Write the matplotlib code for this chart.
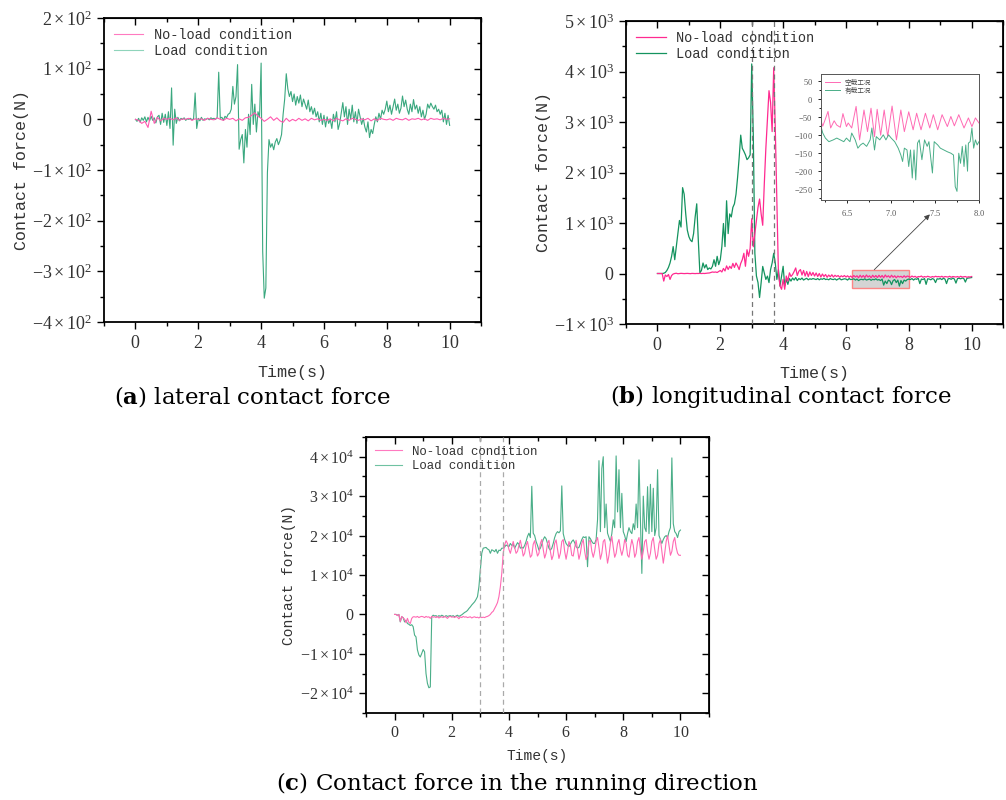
import numpy as np
import matplotlib
matplotlib.use("Agg")
import matplotlib.pyplot as plt
from matplotlib.ticker import FuncFormatter, MultipleLocator
from matplotlib.patches import Rectangle

plt.rcParams['mathtext.fontset'] = 'custom'
plt.rcParams['mathtext.rm'] = 'Liberation Serif'
plt.rcParams['mathtext.it'] = 'Liberation Serif:italic'
plt.rcParams['mathtext.bf'] = 'DejaVu Serif:bold'

# ---------------- data ----------------
# (a) lateral contact force, load condition, sampled every 0.05 s
lat_load = [
    0, -4, 2, -6, 3, -2, 5, -5, 4, -3, 6, -2, 3, -7, 5, 8, -10, 12, -6, 10,
    -12, 15, -18, 62, -51, 20, -8, 4, -3, 2, 0, 3, -2, 1, 0, 2, -1, 1, 52, -18,
    2, -3, 4, -2, 1, 0, 2, -1, 3, 1, 2, 0, 3, 93, 2, 4, -2, 6, 3, 10,
    12, 20, 65, 30, 45, 108, -59, -40, -30, -86, -20, -55, 10, -30, 69, -10, 30, -25, 15, 5,
    111, -261, -353, -333, -105, -40, -55, -48, -60, -45, -38, -50, -42, -30, 10, 40, 90, 60, 45, 55,
    35, 50, 28, 45, 32, 48, 25, 40, 30, 20, 38, 15, 25, 10, 22, 5, 15, -5, 12, -10,
    8, -15, 5, -8, 0, -18, 10, -5, 15, -20, -8, 12, 33, 5, 25, -10, 20, 0, 28, -5,
    15, -8, 20, 5, -10, 2, -15, -25, -5, -36, -20, -28, -10, 5, -5, 12, 0, 18, 10, 20,
    36, 15, 28, 10, 25, 40, 18, 30, 12, 22, 46, 25, 38, 20, 10, 30, 15, 39, 20, 28,
    12, 25, 5, 18, 0, 10, 30, 22, 32, 25, 20, 28, 15, 20, 10, 18, -5, 12, -10, 8, -12,
]
# (a) no-load condition, sampled every 0.1 s
lat_noload = [
    0, -2, -8, -4, -16, 16, -8, 4, -3, 2,
    0, 2, -1, 3, -2, 1, 0, 2, -2, 1,
    0, 1, -2, 2, 0, -1, 3, 0, -2, 2,
    0, 2, -3, 1, -2, 3, 4, 8, 13, 6,
    2, -4, 0, 5, -2, 3, -3, -6, 2, -4,
    0, -3, 2, -2, 1, -3, 2, -1, 1, -2,
    0, -2, 1, -3, 2, -1, -3, 1, -2, 2,
    0, -2, 1, -1, 2, -3, 1, -2, 2, 0,
    -1, 1, -2, 2, 0, -1, 2, -2, 1, 0,
    2, -1, 1, -2, 2, 0, 1, -1, 2, 0, 1,
]

# (b) longitudinal contact force, every 0.05 s
lon_load = [
    0, 0, 0, 0, 5, 20, 60, 120, 208, 340, 533, 273, 530, 790, 1050, 920, 1700, 1570, 1180, 860,
    730, 660, 630, 790, 1120, 1380, 660, 13, 60, 208, 110, 175, 78, 110, 90, 143, 273, 143, 340, 175,
    273, 533, 990, 533, 1440, 790, 1180, 1120, 1310, 1380, 1570, 1900, 2290, 2740, 2480, 2420, 2350, 2255, 2290, 2350,
    4150, 2740, 400, -50, -180, -475, -180, 140, 13, -117, -52, -180, 78, 208, 400, 208, -117, 78, -247, -52,
    143, -247, -117, -215, -100, -150, -90, -130, -80, -140, -100, -120, -90, -130, -110, -95, -125, -105, -115, -100,
    -110, -120, -100, -125, -105, -115, -95, -120, -110, -125, -100, -115, -120, -105, -130, -110, -100, -125, -115, -105,
    -110, -130, -100, -120, -115, -105, -130, -110, -140, -120, -115, -125, -105, -130, -120, -110, -135, -115, -125, -105,
    -130, -120, -140, -110, -230, -150, -200, -130, -150, -220, -140, -120, -180, -130, -250, -140, -200, -130, -150, -120,
    -110, -120, -100, -130, -105, -115, -95, -200, -110, -120, -100, -215, -105, -110, -125, -100, -115, -180, -105, -110,
    -100, -120, -95, -110, -200, -105, -100, -115, -90, -110, -190, -100, -95, -105, -90, -100, -170, -95, -90, -85, -80,
]
lon_noload = [
    0, 0, 0, 0, -150, -30, -60, -20, -117, -40, -10, 0, 5, -5, 0, 3, 0, -2, 0, 2,
    0, -3, 2, 0, -2, 1, 0, 3, -1, 2, 0, 5, 8, 10, 20, 30, 25, 30, 20, 40,
    60, 30, 100, 50, 150, 80, 143, 100, 200, 120, 208, 150, 78, 200, 273, 400, 143, 470, 340, 500,
    1085, 530, 790, 1050, 1310, 1475, 1180, 955, 1770, 2480, 3070, 3620, 3390, 2810, 4075, 2870, 1440, 13, -247, -312,
    -117, -312, -50, -150, 13, -60, -20, 40, 110, -40, 45, 78, -30, 60, -50, 40, -60, 30, -40, 20,
    -50, 10, -60, 0, -70, -10, -60, -20, -75, -30, -65, -25, -70, -35, -60, -40, -75, -45, -65, -40,
    -70, -45, -75, -50, -80, -40, -70, -45, -85, -35, -75, -40, -80, -30, -70, -45, -85, -35, -75, -40,
    -80, -35, -75, -40, -85, -30, -70, -45, -80, -35, -75, -45, -85, -50, -70, -55, -80, -45, -75, -50,
    -60, -75, -50, -70, -55, -80, -60, -65, -50, -75, -60, -70, -55, -65, -75, -60, -70, -55, -65, -60,
    -70, -55, -75, -60, -65, -70, -55, -75, -60, -65, -70, -60, -75, -55, -70, -65, -60, -75, -65, -70, -60,
]

# (b) inset, 6.2-8.0 s
ins_noload_t = [6.20, 6.22, 6.25, 6.28, 6.31, 6.35, 6.38, 6.42, 6.45, 6.49, 6.51, 6.55, 6.60, 6.64,
                6.69, 6.73, 6.77, 6.81, 6.84, 6.88, 6.92, 6.96, 7.01, 7.06, 7.11, 7.15, 7.20, 7.25,
                7.29, 7.34, 7.39, 7.44, 7.48, 7.53, 7.58, 7.64, 7.68, 7.72, 7.77, 7.83, 7.88, 7.92,
                7.96, 8.00]
ins_noload_v = [-60, -75, -55, -34, -80, -60, -72, -78, -40, -76, -66, -80, -20, -113,
                -30, -90, -25, -104, -28, -100, -30, -104, -19, -113, -30, -90, -35, -85,
                -39, -85, -39, -80, -43, -85, -43, -76, -48, -74, -43, -80, -52, -76,
                -52, -66]
ins_load_t = [6.20, 6.22, 6.25, 6.29, 6.34, 6.38, 6.42, 6.46, 6.49, 6.53, 6.55, 6.59, 6.62, 6.65,
              6.68, 6.72, 6.76, 6.78, 6.81, 6.83, 6.87, 6.91, 6.94, 6.97, 7.00, 7.04, 7.08, 7.11,
              7.13, 7.15, 7.18, 7.20, 7.22, 7.24, 7.26, 7.28, 7.30, 7.32, 7.35, 7.38, 7.41, 7.43,
              7.47, 7.49, 7.53, 7.56, 7.60, 7.64, 7.68, 7.71, 7.73, 7.75, 7.77, 7.79, 7.81, 7.83,
              7.85, 7.87, 7.88, 7.90, 7.92, 7.94, 7.96, 7.98, 8.00]
ins_load_v = [-76, -94, -108, -118, -113, -108, -113, -118, -108, -118, -94, -113, -136, -127,
              -122, -131, -113, -80, -141, -104, -113, -99, -113, -99, -108, -118, -136, -155,
              -173, -136, -141, -187, -141, -219, -141, -224, -122, -113, -168, -113, -131, -118,
              -205, -118, -127, -136, -141, -146, -150, -155, -243, -256, -150, -178, -131, -187,
              -127, -200, -122, -118, -80, -136, -113, -127, -118]

# (c) running direction, every 0.05 s
run_load = [
    0, 0, -200, 0, -1900, -600, -800, -1900, -1500, -2300, -2500, -2800, -2600, -3100, -5250, -5700, -9000, -10300, -10800, -9900,
    -8900, -9500, -15000, -17500, -18600, -18400, -600, -200, -400, -300, -600, -300, -500, -200, -400, -600, -300, -500, -400, -300,
    -500, -300, -600, -400, -200, -500, -300, -100, 200, 500, 700, 1000, 1500, 1900, 2400, 2800, 3200, 3800, 4500, 7000,
    11300, 15500, 16800, 16900, 17000, 16600, 16400, 15500, 16400, 16200, 15900, 16500, 15500, 16300, 16200, 16800, 16800, 17100, 17600, 17400,
    17200, 18000, 17500, 17800, 16800, 17500, 18200, 17800, 16800, 17000, 16800, 17500, 18500, 19800, 20600, 19500, 32500, 20600, 20000, 18500,
    17500, 16300, 16800, 17800, 19000, 19700, 19200, 18000, 16800, 16300, 16800, 18000, 19500, 20500, 21000, 20700, 21200, 32600, 20500, 19000,
    18000, 17500, 17200, 17800, 18500, 18900, 18200, 17200, 16800, 17000, 18000, 19000, 19700, 19500, 19700, 12100, 19700, 19200, 18500, 18000,
    18000, 19000, 24000, 39000, 21000, 37000, 40000, 22000, 28000, 20600, 19500, 18500, 20500, 24000, 22000, 40200, 26000, 36700, 22000, 30700,
    21000, 20000, 18500, 20500, 22000, 21000, 20500, 23000, 21500, 28000, 22000, 39200, 24000, 10400, 30000, 22000, 21000, 32400, 20500, 33000,
    21000, 32000, 20000, 22000, 36700, 20000, 19000, 18000, 19000, 19700, 20000, 19500, 21000, 22000, 39700, 23000, 21000, 20500, 19500, 21000, 21400,
]
run_noload = [
    0, 0, -300, 0, -1800, -500, -900, -1200, -2100, -1000, -2000, -2300, -1000, -600, -600, -700, -500, -800, -600, -500,
    -600, -800, -500, -700, -600, -1000, -500, -700, -600, -800, -500, -900, -700, -600, -800, -500, -700, -1000, -600, -500,
    -700, -600, -800, -500, -700, -1100, -600, -800, -500, -700, -600, -800, -700, -600, -900, -700, -600, -800, -700, -900,
    -600, -800, -700, -800, -600, -500, -300, 0, 500, 800, 1500, 2200, 3000, 4500, 7000, 10400, 15500, 17600, 18700, 18000,
    16500, 15500, 17000, 18500, 17000, 15500, 16000, 17500, 18800, 17000, 14800, 15500, 17500, 18500, 16500, 14500, 15000, 17800, 18700, 16500,
    14800, 15500, 18000, 19000, 16500, 14300, 15500, 18000, 18800, 16000, 13900, 15000, 18000, 18900, 16500, 14200, 15500, 18500, 19000, 16000,
    14000, 16000, 18500, 17500, 15000, 14800, 17000, 18800, 16500, 14000, 15500, 18000, 19000, 16000, 13900, 15000, 18500, 18800, 16000, 14500,
    16000, 18500, 19500, 17000, 14000, 15500, 18500, 19000, 16000, 13000, 15000, 18000, 19800, 17000, 14500, 15500, 18000, 19000, 16500, 15000,
    16500, 19000, 18000, 15000, 14500, 17000, 19000, 17500, 14500, 15500, 18500, 19500, 16500, 14000, 16000, 18500, 19000, 16000, 14000, 15500,
    18500, 19500, 16500, 14000, 15000, 18000, 19000, 16000, 13000, 15500, 18500, 20000, 17500, 15000, 16000, 18500, 19500, 17000, 15500, 15000, 15000,
]

t05 = np.linspace(0, 10, len(lat_load))
t10 = np.linspace(0, 10, len(lat_noload))

MONO = 'Liberation Mono'
TXT = '#333333'


def sci_fmt(exp):
    def f(v, pos):
        if abs(v) < 1e-9:
            return r"$0$"
        return r"$%d\times10^{%d}$" % (round(v / 10 ** exp), exp)
    return FuncFormatter(f)


def style(ax, exp, ymajor, yminor, tsize, lsize):
    ax.set_xlim(-1, 11)
    ax.xaxis.set_major_locator(MultipleLocator(2))
    ax.xaxis.set_minor_locator(MultipleLocator(1))
    ax.yaxis.set_major_locator(MultipleLocator(ymajor))
    ax.yaxis.set_minor_locator(MultipleLocator(yminor))
    ax.yaxis.set_major_formatter(sci_fmt(exp))
    ax.xaxis.set_major_formatter(FuncFormatter(lambda v, p: r"$%d$" % v))
    ax.tick_params(which='both', direction='out', colors='black', labelcolor=TXT,
                   labelsize=tsize, width=1)
    ax.tick_params(which='major', length=5)
    ax.tick_params(which='minor', length=3)
    for s in ax.spines.values():
        s.set_linewidth(1.3)
    # inward ticks on top and right
    top = ax.secondary_xaxis('top')
    top.xaxis.set_major_locator(MultipleLocator(2))
    top.xaxis.set_minor_locator(MultipleLocator(1))
    top.tick_params(which='both', direction='in', labeltop=False, width=1)
    top.tick_params(which='major', length=5)
    top.tick_params(which='minor', length=3)
    right = ax.secondary_yaxis('right')
    right.yaxis.set_major_locator(MultipleLocator(ymajor))
    right.yaxis.set_minor_locator(MultipleLocator(yminor))
    right.tick_params(which='both', direction='in', labelright=False, width=1)
    right.tick_params(which='major', length=5)
    right.tick_params(which='minor', length=3)
    ax.set_xlabel('Time(s)', fontfamily=MONO, fontsize=lsize, color=TXT)
    ax.set_ylabel('Contact force(N)', fontfamily=MONO, fontsize=lsize, color=TXT)
    ax.xaxis.set_label_coords(0.5, -0.14)
    ax.yaxis.set_label_coords(-0.2, 0.5)


fig = plt.figure(figsize=(10.06, 8.0), dpi=100)

# ---------- (a) ----------
axa = fig.add_axes([0.1034, 0.5975, 0.3748, 0.38])
axa.plot(t05, lat_load, color='#3aa87f', lw=0.8, label='Load condition', zorder=2)
axa.plot(t10, lat_noload, color='#ff5ab0', lw=0.8, label='No-load condition', zorder=3)
axa.set_ylim(-400, 200)
style(axa, 2, 100, 50, 13, 12)
h, l = axa.get_legend_handles_labels()
leg = axa.legend(h[::-1], l[::-1], loc='upper left', frameon=False, handlelength=2.2,
                 prop={'family': MONO, 'size': 9.8}, borderaxespad=0.3, labelspacing=0.2)
leg.get_lines()[0].set_color('#ff7ac0')
leg.get_lines()[1].set_color('#8fd4bb')
for tx in leg.get_texts():
    tx.set_color(TXT)

# ---------- (b) ----------
axb = fig.add_axes([0.6223, 0.595, 0.3748, 0.37875])
axb.add_patch(Rectangle((6.2, -280), 1.8, 350, facecolor='#d0d0d0', edgecolor='#ff7b7b',
                        lw=1.0, alpha=0.9, zorder=1))
axb.plot(t05, lon_noload, color='#ff2a90', lw=0.9, label='No-load condition', zorder=3)
axb.plot(t05, lon_load, color='#14935f', lw=0.9, label='Load condition', zorder=2)
for xv in (3.0, 3.7):
    axb.axvline(xv, color='#777777', lw=0.9, ls=(0, (4, 3)), zorder=4)
axb.set_ylim(-1000, 5000)
style(axb, 3, 1000, 500, 13, 12)
leg = axb.legend(loc='upper left', frameon=False, handlelength=2.2,
                 prop={'family': MONO, 'size': 9.8}, borderaxespad=0.3, labelspacing=0.2)
for tx in leg.get_texts():
    tx.set_color(TXT)
axb.annotate('', xy=(8.67, 1170), xytext=(6.9, 75),
             arrowprops=dict(arrowstyle='-|>', color='#444444', lw=0.6,
                             mutation_scale=8, shrinkA=0, shrinkB=0), zorder=5)

# inset
axi = fig.add_axes([0.8161, 0.75, 0.157, 0.1575])
axi.plot(ins_noload_t, ins_noload_v, color='#ff6ab4', lw=0.7, label='空载工况')
axi.plot(ins_load_t, ins_load_v, color='#4aae88', lw=0.7, label='有载工况')
axi.set_xlim(6.2, 8.0)
axi.set_ylim(-280, 70)
axi.xaxis.set_major_locator(MultipleLocator(0.5))
axi.xaxis.set_minor_locator(MultipleLocator(0.25))
axi.yaxis.set_major_locator(MultipleLocator(50))
axi.yaxis.set_minor_locator(MultipleLocator(25))
axi.xaxis.set_major_formatter(FuncFormatter(lambda v, p: r"$%.1f$" % v))
axi.yaxis.set_major_formatter(FuncFormatter(lambda v, p: r"$%d$" % v))
axi.tick_params(which='both', labelsize=6, labelcolor='#555555', width=0.6, direction='out')
axi.tick_params(which='major', length=2.5)
axi.tick_params(which='minor', length=1.5)
for s in axi.spines.values():
    s.set_linewidth(0.7)
    s.set_color('#555555')
leg = axi.legend(loc='upper left', frameon=False, handlelength=2.2, borderaxespad=0.2,
                 labelspacing=0.1, prop={'family': ['Noto Sans CJK SC', 'DejaVu Sans'], 'size': 4.8})
for tx in leg.get_texts():
    tx.set_color('#444444')

# ---------- (c) ----------
axc = fig.add_axes([0.3638, 0.10875, 0.341, 0.345])
axc.plot(t05, run_load, color='#4aae88', lw=0.8, label='Load condition', zorder=2)
axc.plot(t05, run_noload, color='#ff6ab4', lw=0.8, label='No-load condition', zorder=3)
for xv in (3.0, 3.8):
    axc.axvline(xv, color='#aaaaaa', lw=0.9, ls=(0, (4, 3)), zorder=4)
axc.set_ylim(-25000, 45000)
style(axc, 4, 10000, 5000, 11.5, 10.5)
axc.xaxis.set_label_coords(0.5, -0.13)
axc.yaxis.set_label_coords(-0.205, 0.5)
h, l = axc.get_legend_handles_labels()
leg = axc.legend(h[::-1], l[::-1], loc='upper left', frameon=False, handlelength=2.2,
                 prop={'family': MONO, 'size': 8.9}, borderaxespad=0.3, labelspacing=0.2)
leg.get_lines()[0].set_color('#ff7ac0')
leg.get_lines()[1].set_color('#6fc2a2')
for tx in leg.get_texts():
    tx.set_color(TXT)

# ---------- captions ----------
cap = dict(fontfamily='DejaVu Serif', fontsize=16.5, ha='center', va='center', color='black')
fig.text(0.2505, 0.504, r"($\mathbf{a}$) lateral contact force", **cap)
fig.text(0.776, 0.504, r"($\mathbf{b}$) longitudinal contact force", **cap)
fig.text(0.514, 0.021, r"($\mathbf{c}$) Contact force in the running direction", **cap)

fig.savefig('out.png', dpi=100)
